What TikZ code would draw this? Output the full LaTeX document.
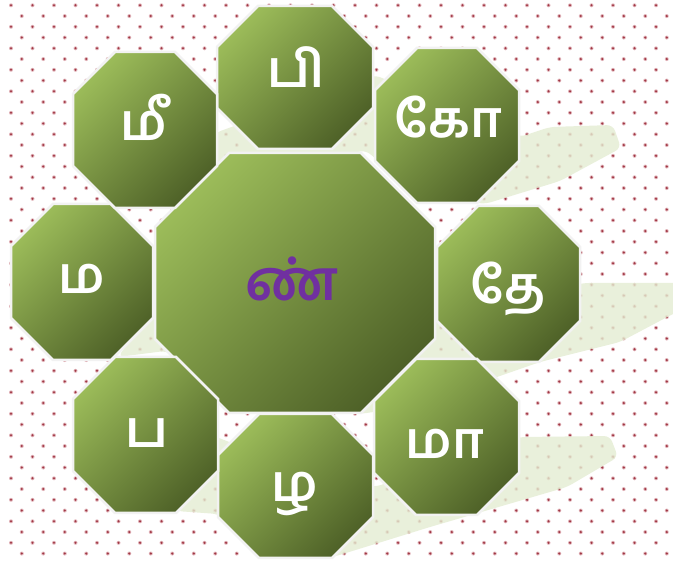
\documentclass[tikz,border=0pt]{standalone}
\usepackage{fontspec}
\newfontfamily\tamil[Script=Tamil]{Hind Madurai}
\definecolor{ogl}{RGB}{155,187,89}
\definecolor{ogd}{RGB}{79,98,40}
\definecolor{swc}{RGB}{228,237,210}
\definecolor{dotc}{RGB}{160,55,68}
\definecolor{halo}{RGB}{225,180,186}
\definecolor{purp}{RGB}{112,48,160}
\definecolor{edgec}{RGB}{242,242,242}
% #1 cx, #2 cy, #3 half width, #4 half height, #5 corner cut
\newcommand\octo[5]{%
  \shade[top color=ogl, bottom color=ogd, shading angle=45, draw=edgec, line width=2.5pt, line join=miter]
    ({#1-#3+#5},{#2-#4}) -- ({#1+#3-#5},{#2-#4}) -- ({#1+#3},{#2-#4+#5}) -- ({#1+#3},{#2+#4-#5})
    -- ({#1+#3-#5},{#2+#4}) -- ({#1-#3+#5},{#2+#4}) -- ({#1-#3},{#2+#4-#5}) -- ({#1-#3},{#2-#4+#5}) -- cycle;}
\tikzset{
  lbl/.style={text=white, font=\tamil\bfseries\fontsize{51}{58}\selectfont, anchor=base, inner sep=0pt},
  clbl/.style={text=purp, font=\tamil\bfseries\fontsize{56}{64}\selectfont, anchor=base, inner sep=0pt},
  swoosh/.style={fill=swc, opacity=0.8, rounded corners=6pt}
}
\begin{document}
\begin{tikzpicture}[x=1pt,y=-1pt]
\useasboundingbox (0,0) rectangle (673,561);
\fill[white] (0,0) rectangle (673,561);
\begin{scope}
  \clip (0,0) rectangle (673,561);
  \fill[halo] \foreach \r in {0,...,52}{ \foreach \c in {0,...,31}{ ({11+21.5*\c+mod(\r,2)*10.75},{5.3+10.75*\r}) circle (2.0) } };
  \fill[dotc] \foreach \r in {0,...,52}{ \foreach \c in {0,...,31}{ ({11+21.5*\c+mod(\r,2)*10.75},{5.3+10.75*\r}) circle (1.2) } };
  % swooshes
  \fill[swoosh] (205,165) -- (215,133) -- (375,75) -- (520,137) -- (550,127) -- (613,125) -- (621,148)
     -- (560,181) -- (485,204) -- (430,196) -- (390,170) -- (365,150) -- (300,168) -- (230,163) -- cycle;
  \fill[swoosh] (118,357) -- (150,312) -- (300,290) -- (436,322) -- (583,283) -- (690,283) -- (690,305)
     -- (620,342) -- (540,362) -- (497,377) -- (420,405) -- (360,414) -- (300,400) -- (165,351) -- cycle;
  \fill[swoosh] (214,436) -- (300,470) -- (375,487) -- (520,437) -- (610,436) -- (618,457) -- (567,487)
     -- (430,527) -- (333,557) -- (260,545) -- (218,514) -- (176,511) -- cycle;
\end{scope}
% octagons
\octo{295}{283}{140}{130}{74}
\octo{295}{77.5}{78}{71.5}{41}
\octo{447}{125.5}{72}{77.5}{42}
\octo{508.5}{284}{71.5}{78}{41}
\octo{446.5}{437}{72.5}{78}{42}
\octo{295.5}{486}{77.5}{72}{41}
\octo{145.5}{435}{72.5}{78}{42}
\octo{82}{282}{71}{78}{42}
\octo{145}{130}{72}{78}{42}
% labels
\node[clbl] (c) at (292,301) {ண்};
\node[lbl] (t1) at (296,88) {பி};
\node[lbl] (t2) at (448,138) {கோ};
\node[lbl] (t3) at (508,304) {தே};
\node[lbl] (t4) at (445,459) {மா};
\node[lbl] (t5) at (295,502) {ழ};
\node[lbl] (t6) at (147,448) {ப};
\node[lbl] (t7) at (82,294) {ம};
\node[lbl] (t8) at (144,141) {மீ};
\end{tikzpicture}
\end{document}
